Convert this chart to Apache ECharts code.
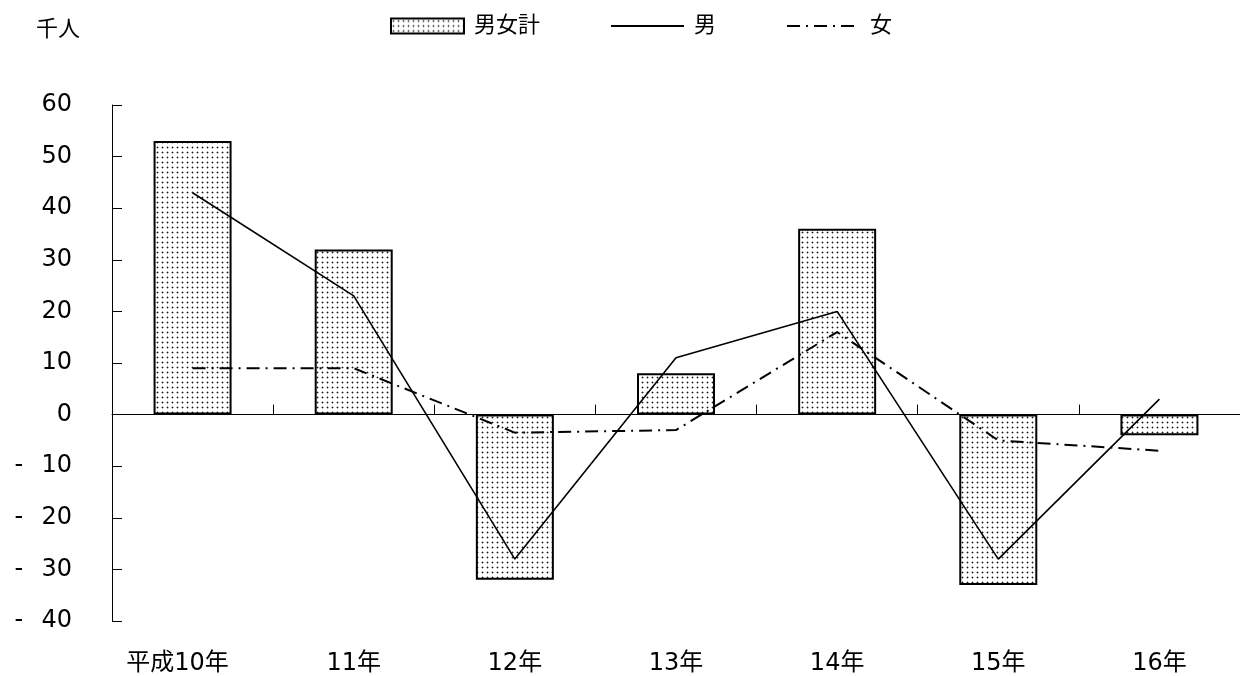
<!DOCTYPE html>
<html>
<head>
<meta charset="utf-8">
<style>
  html, body { margin: 0; padding: 0; background: #fff; }
  #chart { width: 1240px; height: 676px; }
</style>
<script src="https://cdn.jsdelivr.net/npm/echarts@6/dist/echarts.min.js"></script>
</head>
<body>
<div id="chart"></div>
<script>
// 年次別増減（千人）
const categories = ['平成10年', '11年', '12年', '13年', '14年', '15年', '16年'];
const totalValues = [53, 32, -32, 8, 36, -33, -4];
const maleValues = [43, 23, -28, 11, 20, -28, 3];
const femaleValues = [9, 9, -3.5, -3, 16, -5, -7];
const yTicks = { min: -40, max: 60, interval: 10 };

const FONT = '"DejaVu Sans", "Noto Sans CJK JP", sans-serif';

// Dotted fill for the total bars
function dotPattern() {
  const c = document.createElement('canvas');
  c.width = 5; c.height = 5;
  const ctx = c.getContext('2d');
  ctx.fillStyle = '#ffffff';
  ctx.fillRect(0, 0, 5, 5);
  ctx.fillStyle = '#a8a8a8';
  ctx.fillRect(1, 2, 3, 1);
  ctx.fillRect(2, 1, 1, 3);
  ctx.fillStyle = '#1e1e1e';
  ctx.fillRect(2, 2, 1, 1);
  return c;
}

const chart = echarts.init(document.getElementById('chart'), null, { renderer: 'canvas' });

const option = {
  backgroundColor: '#ffffff',
  animation: false,
  textStyle: { fontFamily: FONT, color: '#000' },
  graphic: [{
    type: 'text',
    left: 36,
    top: 19,
    style: { text: '千人', font: '22px ' + FONT, fill: '#000' }
  }],
  legend: {
    left: 390,
    top: 15,
    padding: 0,
    itemWidth: 73,
    itemHeight: 15,
    itemGap: 70,
    textStyle: { fontSize: 22, fontFamily: FONT, color: '#000', padding: [0, 0, 0, 5] },
    data: [
      { name: '男女計', icon: 'rect' },
      { name: '男', itemStyle: { opacity: 0 } },
      { name: '女', itemStyle: { opacity: 0 } }
    ]
  },
  grid: { left: 112, right: -4, top: 105, bottom: 55, containLabel: false },
  xAxis: [
    {
      type: 'category',
      data: categories,
      position: 'bottom',
      axisLine: { show: false, onZero: false },
      axisTick: { show: false },
      axisLabel: {
        interval: 0,
        margin: 31,
        fontSize: 24,
        fontFamily: FONT,
        color: '#000',
        formatter: function (v, i) {
          return i === 0 ? '{first|' + v + '}' : v;
        },
        rich: {
          first: { fontSize: 24, fontFamily: FONT, color: '#000', padding: [0, 30, 0, 0] }
        }
      }
    },
    {
      type: 'category',
      data: categories,
      position: 'bottom',
      axisLine: { show: true, onZero: true, lineStyle: { color: '#000', width: 1 } },
      axisTick: { show: true, inside: true, length: 10, interval: 0, lineStyle: { color: '#000' } },
      axisLabel: { show: false }
    }
  ],
  yAxis: {
    type: 'value',
    min: yTicks.min,
    max: yTicks.max,
    interval: yTicks.interval,
    splitLine: { show: false },
    axisLine: { show: true, onZero: false, lineStyle: { color: '#000', width: 1 } },
    axisTick: { show: true, inside: true, length: 10, lineStyle: { color: '#000' } },
    axisLabel: {
      margin: 40,
      fontSize: 24,
      fontFamily: FONT,
      color: '#000',
      formatter: function (v) {
        return v < 0 ? '{m|-}{n|' + Math.abs(v) + '}' : '{n|' + v + '}';
      },
      rich: {
        m: { width: 27, align: 'left', fontSize: 24, fontFamily: FONT, color: '#000' },
        n: { fontSize: 24, fontFamily: FONT, color: '#000' }
      }
    }
  },
  series: [
    {
      name: '男女計',
      type: 'bar',
      xAxisIndex: 0,
      data: totalValues,
      barWidth: 78,
      itemStyle: {
        color: { image: dotPattern(), repeat: 'repeat' },
        borderColor: '#000',
        borderWidth: 2
      }
    },
    {
      name: '男',
      type: 'line',
      xAxisIndex: 0,
      data: maleValues,
      symbol: 'none',
      lineStyle: { color: '#000', width: 1.6, type: 'solid' },
      itemStyle: { color: '#000' }
    },
    {
      name: '女',
      type: 'line',
      xAxisIndex: 0,
      data: femaleValues,
      symbol: 'none',
      lineStyle: { color: '#000', width: 2, type: [13, 6, 2, 6] },
      itemStyle: { color: '#000' }
    }
  ]
};

chart.setOption(option);
</script>
</body>
</html>
